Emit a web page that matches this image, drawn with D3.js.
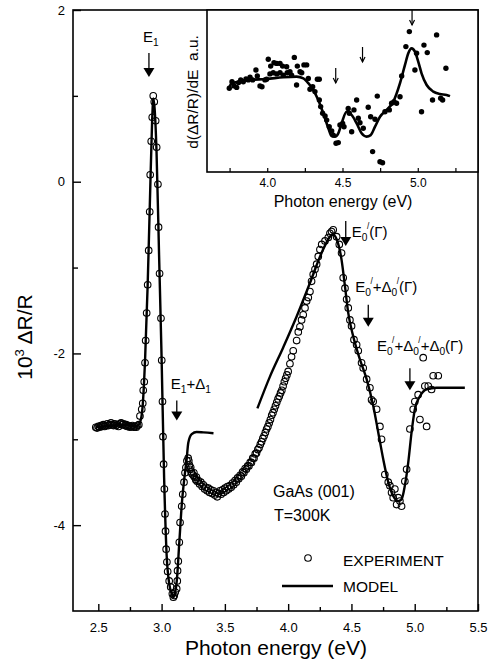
<!DOCTYPE html>
<html>
<head>
<meta charset="utf-8">
<script src="https://cdn.jsdelivr.net/npm/d3@7"></script>
<style>
  body { margin: 0; background: #fff; }
  svg { display: block; font-family: "Liberation Sans", Arial, sans-serif; }
</style>
</head>
<body>
<svg id="chart" width="490" height="668"></svg>
<script>
// experiment, main panel: [photon energy (eV), 10^3 dR/R]
var expFlat = [[2.48,-2.86],[2.49,-2.87],[2.50,-2.85],[2.51,-2.86],[2.52,-2.84],[2.53,-2.85],[2.54,-2.83],[2.55,-2.85],
  [2.56,-2.84],[2.57,-2.82],[2.58,-2.84],[2.59,-2.83],[2.60,-2.81],[2.61,-2.83],[2.62,-2.84],[2.63,-2.82],[2.64,-2.84],
  [2.65,-2.83],[2.66,-2.85],[2.67,-2.82],[2.68,-2.81],[2.69,-2.83],[2.70,-2.82],[2.71,-2.84],[2.72,-2.83],[2.73,-2.85],
  [2.74,-2.84],[2.75,-2.86],[2.76,-2.85],[2.77,-2.84],[2.78,-2.86],[2.79,-2.85],[2.80,-2.86],[2.81,-2.84],[2.82,-2.83]];
var expE1 = [[2.829,-2.73],[2.843,-2.65],[2.851,-2.58],[2.855,-2.43],[2.863,-2.33],[2.869,-2.11],[2.874,-1.85],[2.882,-1.53],
  [2.890,-1.20],[2.898,-0.80],[2.906,-0.35],[2.910,0.08],[2.918,0.47],[2.926,0.75],[2.934,1.00],[2.942,0.93],[2.953,0.71],
  [2.961,0.40],[2.971,-0.03],[2.976,-0.53],[2.984,-1.07],[2.995,-1.59],[3.001,-2.08],[3.007,-2.56],[3.011,-2.97],
  [3.016,-3.29],[3.022,-3.58],[3.027,-3.87],[3.031,-4.07],[3.036,-4.28],[3.042,-4.43],[3.048,-4.54],[3.060,-4.65],
  [3.072,-4.72],[3.085,-4.80],[3.093,-4.84],[3.100,-4.82],[3.108,-4.78],[3.119,-4.74],[3.124,-4.65],[3.126,-4.53],
  [3.132,-4.42],[3.140,-4.20],[3.146,-3.97],[3.159,-3.78],[3.167,-3.64],[3.177,-3.50],[3.185,-3.39],[3.192,-3.33],
  [3.200,-3.25],[3.210,-3.22]];
var expMid = [[3.215,-3.25],[3.22,-3.30],[3.225,-3.35],[3.23,-3.33],[3.235,-3.38],[3.24,-3.40],[3.25,-3.42],[3.255,-3.39],
  [3.26,-3.44],[3.27,-3.47],[3.275,-3.44],[3.28,-3.49],[3.29,-3.48],[3.30,-3.52],[3.31,-3.50],[3.32,-3.55],[3.33,-3.53],
  [3.34,-3.58],[3.35,-3.56],[3.36,-3.60],[3.37,-3.57],[3.38,-3.62],[3.39,-3.59],[3.40,-3.63],[3.41,-3.60],[3.42,-3.65],
  [3.43,-3.62],[3.44,-3.67],[3.45,-3.63],[3.46,-3.60],[3.47,-3.64],[3.48,-3.59],[3.49,-3.62],[3.50,-3.57],[3.51,-3.60],
  [3.52,-3.55],[3.53,-3.58],[3.54,-3.54],[3.55,-3.56],[3.56,-3.51],[3.57,-3.53],[3.58,-3.48],[3.59,-3.50],[3.60,-3.45],
  [3.61,-3.46],[3.62,-3.42],[3.63,-3.43],[3.64,-3.38],[3.65,-3.39],[3.66,-3.34],[3.67,-3.35],[3.68,-3.31],[3.69,-3.31],
  [3.70,-3.27],[3.71,-3.27],[3.72,-3.22],[3.73,-3.22],[3.74,-3.17],[3.75,-3.16],[3.76,-3.12],[3.77,-3.10],[3.78,-3.06],
  [3.79,-3.03],[3.80,-2.99],[3.81,-2.96],[3.82,-2.92],[3.83,-2.88],[3.84,-2.85],[3.85,-2.81],[3.86,-2.77],[3.87,-2.72],
  [3.88,-2.69],[3.89,-2.65],[3.90,-2.61],[3.91,-2.57],[3.92,-2.53],[3.93,-2.50],[3.94,-2.46],[3.95,-2.43],[3.96,-2.38],
  [3.97,-2.33],[3.98,-2.29],[3.99,-2.25],[4.00,-2.21]];
var expE0 = [[4.014,-2.12],[4.027,-2.04],[4.040,-1.97],[4.067,-1.85],[4.080,-1.75],[4.093,-1.69],[4.106,-1.61],[4.119,-1.55],
  [4.133,-1.47],[4.146,-1.39],[4.159,-1.35],[4.172,-1.28],[4.185,-1.16],[4.198,-1.08],[4.212,-1.02],[4.225,-0.96],
  [4.238,-0.87],[4.251,-0.79],[4.265,-0.73],[4.291,-0.69],[4.317,-0.65],[4.330,-0.60],[4.343,-0.58],[4.356,-0.56],
  [4.383,-0.64],[4.404,-0.73],[4.422,-0.83],[4.435,-1.12],[4.449,-1.24],[4.462,-1.37],[4.475,-1.47],[4.488,-1.61],
  [4.501,-1.68],[4.520,-1.84],[4.541,-1.90],[4.554,-1.97],[4.580,-2.11],[4.593,-2.17],[4.620,-2.30],[4.646,-2.40],
  [4.659,-2.54],[4.672,-2.56],[4.699,-2.65],[4.725,-2.85],[4.738,-3.00],[4.764,-3.41],[4.791,-3.50],[4.804,-3.54],
  [4.817,-3.62],[4.830,-3.68],[4.843,-3.58],[4.857,-3.76],[4.870,-3.68],[4.883,-3.72],[4.896,-3.78],[4.922,-3.49],
  [4.936,-3.35],[4.962,-2.88],[4.988,-2.65],[5.001,-2.56],[5.027,-2.48],[5.041,-2.77],[5.067,-2.05],[5.080,-2.38],
  [5.094,-2.85],[5.107,-2.38],[5.133,-2.42],[5.146,-2.26],[5.186,-2.26]];

// model, main panel (two pieces)
var modelLow = [[2.48,-2.86],[2.60,-2.84],[2.70,-2.83],[2.80,-2.85],[2.83,-2.80],[2.85,-2.62],[2.87,-2.05],[2.89,-1.20],
  [2.91,-0.10],[2.925,0.70],[2.935,0.97],[2.945,0.85],[2.96,0.35],[2.98,-0.85],[3.00,-2.05],[3.02,-3.45],[3.04,-4.35],
  [3.06,-4.68],[3.08,-4.80],[3.093,-4.84],[3.105,-4.80],[3.12,-4.65],[3.14,-4.20],[3.16,-3.75],[3.18,-3.45],[3.198,-3.23],
  [3.211,-3.04],[3.238,-2.94],[3.277,-2.915],[3.33,-2.92],[3.41,-2.93]];
var modelHigh = [[3.757,-2.64],[3.856,-2.27],[3.961,-1.93],[4.067,-1.57],[4.172,-1.18],[4.264,-0.83],[4.330,-0.64],
  [4.350,-0.61],[4.383,-0.67],[4.422,-0.91],[4.449,-1.22],[4.475,-1.53],[4.514,-1.80],[4.567,-2.07],[4.620,-2.30],
  [4.672,-2.61],[4.712,-2.92],[4.751,-3.23],[4.791,-3.50],[4.830,-3.66],[4.870,-3.72],[4.896,-3.70],[4.922,-3.54],
  [4.949,-3.27],[4.975,-2.92],[5.001,-2.65],[5.041,-2.50],[5.094,-2.42],[5.173,-2.40],[5.278,-2.40],[5.396,-2.40]];

// inset: derivative d(dR/R)/dE, arbitrary units
var insetExp = [[3.748,2.79],[3.766,3.01],[3.779,2.87],[3.797,2.82],[3.810,2.98],[3.824,3.07],[3.841,3.01],[3.859,3.10],
  [3.874,3.07],[3.886,3.16],[3.903,3.07],[3.925,3.40],[3.934,3.20],[3.952,2.87],[3.965,2.84],[3.985,3.07],[3.996,3.09],
  [4.007,3.76],[4.023,3.53],[4.045,3.64],[4.063,3.62],[4.085,3.62],[4.102,3.53],[4.129,3.51],[4.151,3.34],[4.180,3.82],
  [4.200,3.53],[4.218,3.34],[4.244,3.57],[4.262,3.57],[4.018,3.27],[4.040,3.31],[4.063,3.27],[4.085,3.31],[4.107,3.23],
  [4.133,3.31],[4.162,3.23],[4.195,2.90],[4.229,3.31],[4.273,3.12],[4.284,2.76],[4.302,2.84],[4.317,2.68],[4.333,3.09],
  [4.346,3.09],[4.346,2.40],[4.355,2.18],[4.368,1.96],[4.384,1.87],[4.395,1.73],[4.412,1.51],[4.428,1.37],[4.439,1.23],
  [4.457,0.96],[4.472,0.98],[4.483,1.57],[4.501,1.62],[4.510,1.51],[4.538,2.12],[4.545,1.96],[4.561,1.34],[4.576,2.07],
  [4.594,2.40],[4.605,1.79],[4.616,1.64],[4.638,1.46],[4.671,2.16],[4.687,1.84],[4.700,0.68],[4.716,1.76],[4.731,2.53],
  [4.749,0.34],[4.766,0.31],[4.782,2.01],[4.811,2.07],[4.826,2.29],[4.842,2.34],[4.859,2.29],[4.882,2.51],[4.893,3.20],
  [4.921,4.18],[4.944,4.68],[4.981,3.40],[4.992,3.96],[5.025,2.01],[5.041,4.23],[5.063,3.98],[5.098,2.40],[5.125,4.57],
  [5.152,2.46],[5.165,2.40],[5.187,3.46]];
var insetModel = [[3.748,2.82],[3.764,2.96],[3.819,3.01],[3.886,3.07],[3.996,3.10],[4.107,3.16],[4.195,3.18],[4.240,3.12],
  [4.273,2.96],[4.306,2.73],[4.339,2.40],[4.372,1.96],[4.406,1.46],[4.428,1.20],[4.450,1.18],[4.472,1.29],[4.494,1.62],
  [4.527,2.01],[4.561,1.90],[4.594,1.62],[4.627,1.29],[4.660,1.18],[4.687,1.23],[4.716,1.51],[4.749,1.84],[4.793,2.07],
  [4.837,2.34],[4.882,2.96],[4.915,3.57],[4.937,3.96],[4.959,4.12],[4.981,4.01],[5.003,3.68],[5.025,3.29],[5.059,2.90],
  [5.103,2.68],[5.147,2.60],[5.191,2.57],[5.214,2.53]];

var xMajor = [2.5, 3.0, 3.5, 4.0, 4.5, 5.0, 5.5];
var xMinor = [2.75, 3.25, 3.75, 4.25, 4.75, 5.25];
var yMajor = [2, 0, -2, -4];
var yMinor = [1, -1, -3];
var insetMajor = [4.0, 4.5, 5.0];
var insetMinor = [3.75, 4.25, 4.75, 5.25];
// transition energies marked by arrows
var transitions = [2.90, 3.12, 4.455, 4.633, 4.962];

var svg = d3.select("#chart");
var x = d3.scaleLinear().domain([2.3, 5.5]).range([73, 478]);
var y = d3.scaleLinear().domain([-5, 2]).range([611, 10]);
var ix = d3.scaleLinear().domain([3.6, 5.4]).range([207, 478]);
var iy = d3.scaleLinear().domain([0, 5.4]).range([172, 10]);

function hyph(d) { return d < 0 ? "-" + (-d) : "" + d; }

// main axes
var gx = svg.append("g").attr("transform", "translate(0,611)");
gx.call(d3.axisBottom(x).tickValues(xMajor).tickSize(-7).tickPadding(12).tickFormat(d3.format(".1f")));
gx.append("g").call(d3.axisBottom(x).tickValues(xMinor).tickSize(-4).tickFormat(""));
var gy = svg.append("g").attr("transform", "translate(73,0)");
gy.call(d3.axisLeft(y).tickValues(yMajor).tickSize(-8).tickPadding(8).tickFormat(hyph));
gy.append("g").call(d3.axisLeft(y).tickValues(yMinor).tickSize(-5).tickFormat(""));
svg.selectAll(".domain").remove();
svg.selectAll(".tick line").attr("stroke", "#000").attr("stroke-width", 1.4);
svg.selectAll(".tick text").attr("font-size", 13).attr("font-family", "Liberation Sans, Arial, sans-serif").attr("fill", "#000");

svg.append("rect").attr("x", 73).attr("y", 10).attr("width", 405).attr("height", 601)
  .attr("fill", "none").attr("stroke", "#000").attr("stroke-width", 1.6);

// model lines
var line = d3.line().x(function(d) { return x(d[0]); }).y(function(d) { return y(d[1]); }).curve(d3.curveMonotoneX);
[modelLow, modelHigh].forEach(function(m) {
  svg.append("path").datum(m).attr("d", line).attr("fill", "none").attr("stroke", "#000").attr("stroke-width", 2.4);
});

// experiment circles
var allExp = expFlat.concat(expE1, expMid, expE0);
svg.append("g").selectAll("circle").data(allExp).enter().append("circle")
  .attr("cx", function(d) { return x(d[0]); }).attr("cy", function(d) { return y(d[1]); })
  .attr("r", 3.3).attr("fill", "none").attr("stroke", "#000").attr("stroke-width", 1.1);

// labels with sub/superscripts
function rich(g, px, py, size, parts) {
  var t = g.append("text").attr("x", px).attr("y", py).attr("font-size", size).attr("fill", "#000");
  var shift = 0;
  parts.forEach(function(p) {
    var s = t.append("tspan").text(p[0]);
    if (p[1] === "sub") {
      s.attr("dy", 4 - shift).attr("font-size", size * 0.68); shift = 4;
    } else if (p[1] === "prime") {
      s.attr("dy", -8 - shift).attr("dx", -0.5).attr("font-size", size * 0.55); shift = -8;
    } else if (p[1] === "sup") {
      s.attr("dy", -8 - shift).attr("font-size", size * 0.62); shift = -8;
    } else {
      s.attr("dy", -shift); shift = 0;
    }
  });
  return t;
}

function arrowDown(g, ax, top, tip) {
  g.append("line").attr("x1", ax).attr("x2", ax).attr("y1", top).attr("y2", tip - 8)
    .attr("stroke", "#000").attr("stroke-width", 1.3);
  g.append("path").attr("d", "M" + (ax - 5.5) + "," + (tip - 9) + "L" + (ax + 5.5) + "," + (tip - 9) + "L" + ax + "," + tip + "Z")
    .attr("fill", "#000");
}

var ann = svg.append("g");
var E0p = [["E"], ["0", "sub"], ["/", "prime"]];
var tips = [[y(1.22), 24], [y(-2.78), 20], [y(-0.75), 25], [y(-1.69), 22], [y(-2.43), 22]];
transitions.forEach(function(e, i) {
  arrowDown(ann, x(e), tips[i][0] - tips[i][1], tips[i][0]);
});
var ax = transitions.map(function(e) { return x(e); });
rich(ann, ax[0] - 6, 42, 15, [["E"], ["1", "sub"]]);
rich(ann, ax[1] - 6, 389, 15, [["E"], ["1", "sub"], ["+"], ["\u0394"], ["1", "sub"]]);
rich(ann, ax[2] + 6, 237, 15, E0p.concat([["(\u0393)"]]));
rich(ann, ax[3] - 13, 292, 15, E0p.concat([["+\u0394"], ["0", "sub"], ["/", "prime"], ["(\u0393)"]]));
rich(ann, ax[4] - 33, 351, 15, E0p.concat([["+\u0394"], ["0", "sub"], ["/", "prime"], ["+\u0394"], ["0", "sub"], ["(\u0393)"]]));

svg.append("text").attr("x", 273).attr("y", 497).attr("font-size", 16).text("GaAs (001)");
svg.append("text").attr("x", 274).attr("y", 521).attr("font-size", 16).text("T=300K");

// legend
svg.append("circle").attr("cx", 308).attr("cy", 558).attr("r", 3.3).attr("fill", "none").attr("stroke", "#000").attr("stroke-width", 1.1);
svg.append("text").attr("x", 343).attr("y", 566).attr("font-size", 15.5).text("EXPERIMENT");
svg.append("line").attr("x1", 282).attr("x2", 333).attr("y1", 586).attr("y2", 586).attr("stroke", "#000").attr("stroke-width", 2.4);
svg.append("text").attr("x", 343).attr("y", 592).attr("font-size", 15.5).text("MODEL");

// axis titles
svg.append("text").attr("x", 276).attr("y", 655).attr("text-anchor", "middle").attr("font-size", 21).text("Photon energy (eV)");
rich(svg.append("g").attr("transform", "translate(32,337) rotate(-90)"), 0, 0, 21, [["10"], ["3", "sup"], [" \u0394R/R"]])
  .attr("text-anchor", "middle");

// inset
var ins = svg.append("g");
ins.append("rect").attr("x", 207).attr("y", 10).attr("width", 271).attr("height", 162)
  .attr("fill", "#fff").attr("stroke", "#000").attr("stroke-width", 1.6);
var igx = ins.append("g").attr("transform", "translate(0,172)");
igx.call(d3.axisBottom(ix).tickValues(insetMajor).tickSize(-4).tickPadding(6).tickFormat(d3.format(".1f")));
igx.append("g").call(d3.axisBottom(ix).tickValues(insetMinor).tickSize(-4).tickFormat(""));
igx.selectAll(".domain").remove();
igx.selectAll(".tick line").attr("stroke", "#000").attr("stroke-width", 1.2);
igx.selectAll(".tick text").attr("font-size", 12).attr("font-family", "Liberation Sans, Arial, sans-serif").attr("fill", "#000");

var iline = d3.line().x(function(d) { return ix(d[0]); }).y(function(d) { return iy(d[1]); }).curve(d3.curveMonotoneX);
ins.append("path").datum(insetModel).attr("d", iline).attr("fill", "none").attr("stroke", "#000").attr("stroke-width", 2.6);
ins.append("g").selectAll("circle").data(insetExp).enter().append("circle")
  .attr("cx", function(d) { return ix(d[0]); }).attr("cy", function(d) { return iy(d[1]); })
  .attr("r", 2.7).attr("fill", "#000");

// inset arrows (open heads)
var iTips = [[83, 15], [62, 15], [25, 15]];
transitions.slice(2).forEach(function(e, i) {
  var px = ix(e), tip = iTips[i][0];
  ins.append("line").attr("x1", px).attr("x2", px).attr("y1", tip - iTips[i][1]).attr("y2", tip)
    .attr("stroke", "#000").attr("stroke-width", 1.2);
  ins.append("path").attr("d", "M" + (px - 2.5) + "," + (tip - 5) + "L" + px + "," + tip + "L" + (px + 2.5) + "," + (tip - 5))
    .attr("fill", "none").attr("stroke", "#000").attr("stroke-width", 1.2);
});

ins.append("text").attr("x", 343).attr("y", 207).attr("text-anchor", "middle").attr("font-size", 16).text("Photon energy (eV)");
svg.append("text").attr("transform", "translate(198,92) rotate(-90)").attr("text-anchor", "middle")
  .attr("font-size", 15.5).attr("xml:space", "preserve").text("d(\u0394R/R)/dE  a.u.");
</script>
</body>
</html>
